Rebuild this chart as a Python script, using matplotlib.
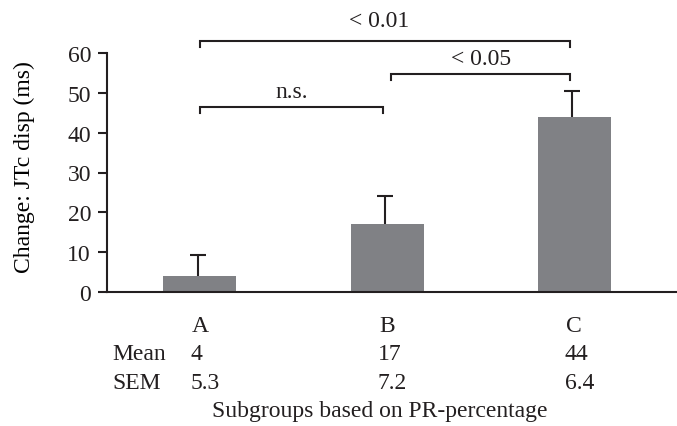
import matplotlib
matplotlib.use("Agg")
import matplotlib.pyplot as plt
from matplotlib.transforms import blended_transform_factory

groups = ["A", "B", "C"]
means = [4, 17, 44]
sems = [5.3, 7.2, 6.4]
yticks = [0, 10, 20, 30, 40, 50, 60]

# significance brackets: (left group, right group, height, label)
brackets = [
    (0, 1, 46.4, "n.s."),
    (1, 2, 54.7, "< 0.05"),
    (0, 2, 63.0, "< 0.01"),
]
label_gap = [2.6, 2.6, 3.7]
label_x = [0.49, 1.5, 0.96]

ink = "#231f20"
bar_color = "#808185"

plt.rcParams["font.family"] = ["Liberation Serif", "DejaVu Serif"]
plt.rcParams["font.size"] = 17
plt.rcParams["text.color"] = ink
plt.rcParams["axes.edgecolor"] = ink
plt.rcParams["xtick.color"] = ink
plt.rcParams["ytick.color"] = ink

fig = plt.figure(figsize=(6.77, 4.27), dpi=100)
ax = fig.add_axes([107 / 677, 134 / 427, 570 / 677, 239 / 427])

x = list(range(len(groups)))
ax.bar(x, means, width=0.39, color=bar_color, zorder=2)

# upper error bars only, with a cap on top
tops = [m + s for m, s in zip(means, sems)]
ex = [xi - 0.01 for xi in x]
ax.vlines(ex, means, tops, color=ink, lw=1.5, zorder=3)
ax.plot(ex, tops, ls="none", marker="_", ms=11, mew=1.5, color=ink, zorder=3)

ax.set_xlim(-0.497, 2.55)
ax.set_ylim(0, 60)
ax.set_yticks(yticks)
ax.set_xticks([])
ax.spines["top"].set_visible(False)
ax.spines["right"].set_visible(False)
ax.spines["left"].set_linewidth(1.5)
ax.spines["bottom"].set_linewidth(1.5)
ax.tick_params(axis="y", direction="out", length=6.5, width=1.5, pad=5)
ax.set_ylabel("Change: JTc disp (ms)")
ax.yaxis.set_label_coords(-0.126, 0.527)

# brackets above the bars
drop = 1.5
for (left, right, h, label), gap, lx in zip(brackets, label_gap, label_x):
    x0 = left + (0.02 if left > 0 else 0)
    x1 = right - 0.02
    ax.plot([x0, x0, x1, x1], [h - drop, h, h, h - drop], color=ink,
            lw=1.5, clip_on=False, solid_joinstyle="miter")
    ax.text(lx, h + gap, label, ha="center", va="baseline", clip_on=False)

# table under the axis
tr = blended_transform_factory(ax.transData, ax.transAxes)
for xi, g, m, s in zip(x, groups, means, sems):
    ax.text(xi, -0.142, g, ha="center", va="center", transform=tr)
    ax.text(xi - 0.05, -0.259, f"{m}", ha="left", va="center", transform=tr)
    ax.text(xi - 0.05, -0.377, f"{s}", ha="left", va="center", transform=tr)
ax.text(-0.47, -0.259, "Mean", ha="left", va="center", transform=tr)
ax.text(-0.47, -0.377, "SEM", ha="left", va="center", transform=tr)
ax.text(0.96, -0.495, "Subgroups based on PR-percentage", ha="center", va="center", transform=tr)

fig.savefig("out.png", dpi=100)
